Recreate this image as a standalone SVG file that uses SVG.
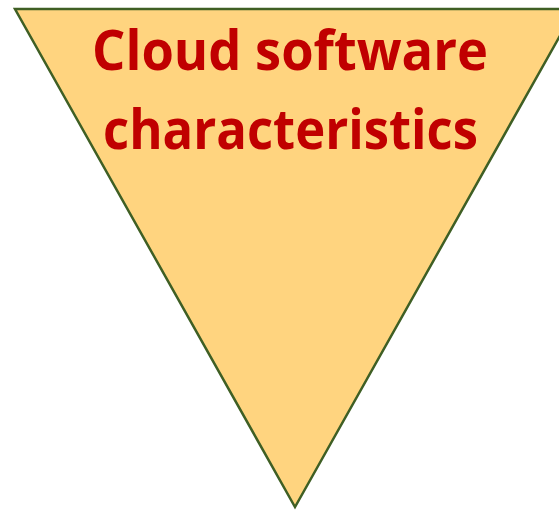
<svg xmlns="http://www.w3.org/2000/svg" width="559" height="510" viewBox="0 0 559 510">
<style>
.t{font-family:"Open Sans","Liberation Sans",sans-serif;font-weight:bold;font-size:55px;fill:#C00000;text-anchor:middle}
</style>
<rect width="559" height="510" fill="#FFFFFF"/>
<g id="triangle">
<polygon points="15,9 575,9 295,507" fill="#FFD47F" stroke="#3F5F24" stroke-width="2.5" stroke-linejoin="miter"/>
<text class="t" x="290" y="70" textLength="396" lengthAdjust="spacingAndGlyphs">Cloud software</text>
<text class="t" x="290.5" y="149" textLength="375" lengthAdjust="spacingAndGlyphs">characteristics</text>
</g>
</svg>
